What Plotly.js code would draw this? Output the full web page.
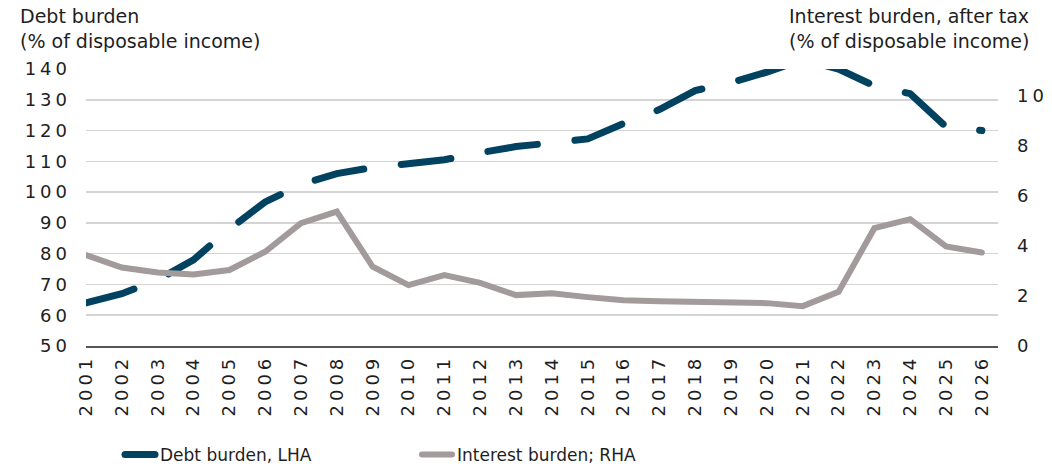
<!DOCTYPE html>
<html>
<head>
<meta charset="utf-8">
<script src="https://cdn.plot.ly/plotly-3.0.1.min.js"></script>
<style>
  html, body { margin: 0; padding: 0; background: #fff; }
  #chart { width: 1052px; height: 467px; }
  .scatterlayer .js-line { stroke-linecap: round; }
  .legendlines path { stroke-linecap: round; stroke-dasharray: none !important; }
  .xtick text, .ytick text, .y2tick text { letter-spacing: 4px; }
</style>
</head>
<body>
<div id="chart"></div>
<script>
const years = ["2001","2002","2003","2004","2005","2006","2007","2008","2009","2010","2011","2012","2013",
  "2014","2015","2016","2017","2018","2019","2020","2021","2022","2023","2024","2025","2026"];
const debtBurden = [64, 67, 71.5, 78, 88, 96.8, 102.5, 106, 108, 109, 110.5, 112.8, 114.8,
  116, 117.3, 122.3, 126.8, 133, 135.6, 139, 143, 140, 134.5, 132, 121.2, 120];
const interestBurden = [3.63, 3.13, 2.93, 2.85, 3.03, 3.76, 4.9, 5.36, 3.16, 2.43, 2.83, 2.52, 2.03,
  2.1, 1.95, 1.83, 1.79, 1.75, 1.73, 1.71, 1.59, 2.16, 4.7, 5.06, 3.97, 3.73];
const leftTicks = [50, 60, 70, 80, 90, 100, 110, 120, 130, 140];
const leftGrid = [60, 70, 80, 90, 100, 110, 120, 130];
const rightTicks = [0, 2, 4, 6, 8, 10];
const seriesNames = ["Debt burden, LHA", "Interest burden; RHA"];
const leftTitle = "Debt burden<br>(% of disposable income)";
const rightTitle = "Interest burden, after tax<br>(% of disposable income)";

const FONT = "DejaVu Sans, sans-serif";
const TXT = "#1e1e1e";

const traces = [
  {
    x: years, y: debtBurden, name: seriesNames[0], type: "scatter", mode: "lines",
    line: { color: "#00425f", width: 7, dash: "50px,37.75px" },
    yaxis: "y"
  },
  {
    x: years, y: interestBurden, name: seriesNames[1], type: "scatter", mode: "lines",
    line: { color: "#a29a9b", width: 6 },
    yaxis: "y2"
  }
];

const layout = {
  width: 1052, height: 467,
  margin: { l: 86, r: 54, t: 69, b: 121, autoexpand: false },
  paper_bgcolor: "#fff", plot_bgcolor: "#fff",
  font: { family: FONT, color: TXT, size: 17 },
  showlegend: true,
  legend: {
    orientation: "h", xref: "paper", yref: "container",
    x: 0.0373, y: 0.026, xanchor: "left", yanchor: "middle",
    font: { family: FONT, size: 17, color: TXT },
    entrywidth: 252, entrywidthmode: "pixels",
    traceorder: "normal"
  },
  xaxis: {
    type: "category", range: [0, 25.45], automargin: false,
    tickangle: -90, showgrid: false, zeroline: false,
    showline: true, linecolor: "#555", linewidth: 1.5,
    ticks: "", tickfont: { family: FONT, size: 18, color: TXT }
  },
  yaxis: {
    range: [50, 140], tickmode: "array", tickvals: leftTicks, automargin: false,
    showgrid: false, zeroline: false, showline: false, ticks: "",
    ticklabelstandoff: 14,
    tickfont: { family: FONT, size: 18, color: TXT },
    minor: { tickmode: "array", tickvals: leftGrid, showgrid: true, gridcolor: "#d4d4d4", gridwidth: 1.5, ticks: "" }
  },
  yaxis2: {
    overlaying: "y", side: "right", range: [0, 11.05], automargin: false,
    tickmode: "array", tickvals: rightTicks,
    showgrid: false, zeroline: false, showline: false, ticks: "",
    ticklabelstandoff: 18,
    tickfont: { family: FONT, size: 18, color: TXT }
  },
  annotations: [
    {
      text: leftTitle, xref: "paper", yref: "paper",
      x: -0.0746, y: 1.24, xanchor: "left", yanchor: "top", align: "left",
      showarrow: false, font: { family: FONT, size: 19, color: TXT }
    },
    {
      text: rightTitle, xref: "paper", yref: "paper",
      x: 0.7686, y: 1.24, xanchor: "left", yanchor: "top", align: "left",
      showarrow: false, font: { family: FONT, size: 19, color: TXT }
    }
  ]
};

Plotly.newPlot("chart", traces, layout, { displayModeBar: false, staticPlot: true });
</script>
</body>
</html>
